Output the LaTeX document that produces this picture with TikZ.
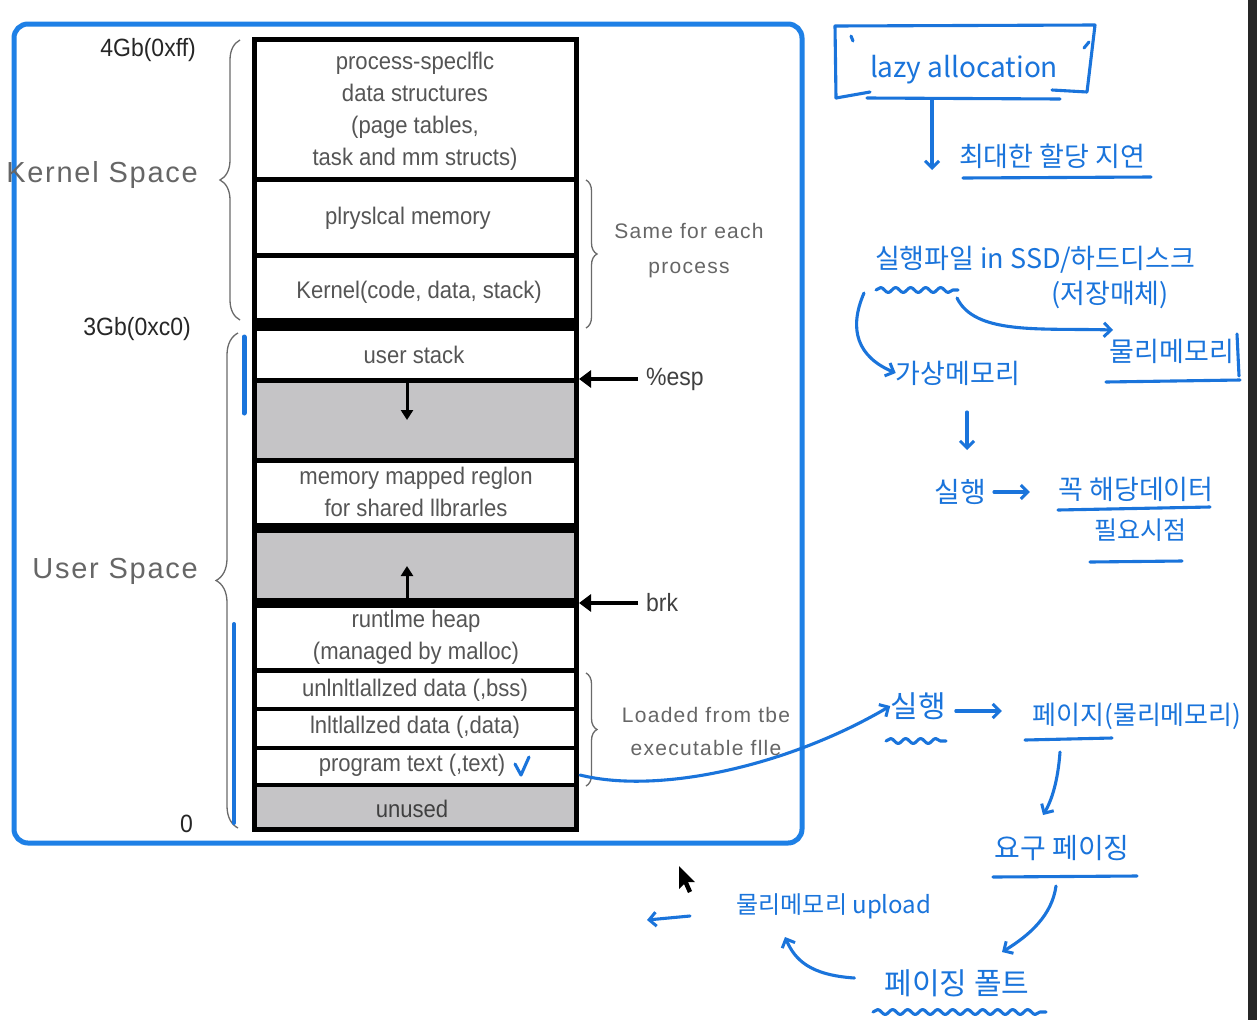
\documentclass[tikz,border=0pt]{standalone}
\usepackage{fontspec}
\setmainfont{Liberation Sans}
\newfontfamily\narrowfont[FakeStretch=0.92]{Liberation Sans}
\newfontfamily\widefont[LetterSpace=6]{Liberation Sans}
\newfontfamily\kr{Noto Sans CJK KR}
\usetikzlibrary{arrows.meta,decorations.pathreplacing,decorations.pathmorphing}
\definecolor{frameblue}{HTML}{1E80E6}
\definecolor{pen}{HTML}{1A74DB}
\definecolor{segtext}{HTML}{555555}
\definecolor{seggrey}{HTML}{C5C4C6}
\definecolor{bracegrey}{HTML}{6A6A6A}
\tikzset{
  segtxt/.style={font=\narrowfont\fontsize{24}{32}\selectfont, text=segtext, align=center, inner sep=0},
  addr/.style={font=\narrowfont\fontsize{25}{28}\selectfont, text=black!85, inner sep=0},
  spacelbl/.style={font=\widefont\fontsize{29}{32}\selectfont, text=black!60, inner sep=0},
  penline/.style={draw=pen, line width=3.1, line cap=round, line join=round},
  barb/.style={-{Straight Barb[length=7,width=14,line width=3]}},
  hand/.style={text=pen, font=\kr\fontsize{#1}{#1}\selectfont, inner sep=0},
  hand/.default=27,
  wavy/.style={penline, decorate, decoration={snake, segment length=15, amplitude=2.5}},
  bracestyle/.style={draw=bracegrey, line width=1.3, decorate, decoration={brace, amplitude=#1}},
  ptr/.style={line width=3.5, -{Triangle[length=12,width=17]}},
}
\begin{document}
\begin{tikzpicture}[x=1pt,y=-1pt]
\useasboundingbox (0,0) rectangle (1257,1020);
\fill[white] (0,0) rectangle (1257,1020);
\fill[black!85] (1248,0) rectangle (1257,1020);

% ---- address space layout ----
\draw[frameblue, line width=5, rounded corners=14] (14,24) rectangle (802,843);

\fill[seggrey] (254,381) rectangle (576,460);
\fill[seggrey] (254,530) rectangle (576,600);
\fill[seggrey] (254,786) rectangle (576,828);
\foreach \y/\w in {179/5, 255/5, 380/5, 460/5, 670/5, 709/4.5, 748/4.5, 785/4.5}
  \draw[line width=\w] (254,\y) -- (576,\y);
\fill (254,318) rectangle (576,331);
\fill (254,523) rectangle (576,533);
\fill (254,598) rectangle (576,608);
\draw[line width=5] (254,39) rectangle (576,829);

\node[segtxt] (pss) at (415,111) {process-speclflc\\data structures\\(page tables,\\task and mm structs)};
\node[segtxt] (phys) at (408,218) {plryslcal memory};
\node[segtxt] (kern) at (419,292) {Kernel(code, data, stack)};
\node[segtxt] (ustack) at (414,355) {user stack};
\node[segtxt] (mmap) at (416,492) {memory mapped reglon\\for shared llbrarles};
\node[segtxt] (heap) at (416,637) {runtlme heap\\(managed by malloc)};
\node[segtxt] (bss) at (415,690) {unlnltlallzed data (,bss)};
\node[segtxt] (data) at (415,727) {lnltlallzed data (,data)};
\node[segtxt] (text) at (412,765) {program text (,text)};
\node[segtxt, text=black!75] (unused) at (412,809) {unused};

% growth directions of stack and heap
\coordinate (sTop) at (407,382);
\coordinate (sEnd) at (407,420);
\draw[line width=3, -{Triangle[length=10,width=12]}] (sTop) -- (sEnd);
\coordinate (hBot) at (407,601);
\coordinate (hEnd) at (407,566);
\draw[line width=3, -{Triangle[length=10,width=12]}] (hBot) -- (hEnd);

% pointers
\node[addr, anchor=west, text=black!75] (esp) at (646,379) {\%esp};
\coordinate (espT) at (579,379);
\draw[ptr] (esp.west) ++(-8,0) -- (espT);
\node[addr, anchor=west, text=black!75] (brk) at (646,603) {brk};
\coordinate (brkT) at (579,603);
\draw[ptr] (brk.west) ++(-8,0) -- (brkT);

% addresses and regions
\node[addr, anchor=east] (a4) at (196,50) {4Gb(0xff)};
\node[addr, anchor=east] (a3) at (191,329) {3Gb(0xc0)};
\node[addr, anchor=east] (a0) at (193,824) {0};
\node[spacelbl, anchor=east] (ks) at (198,175) {Kernel Space};
\node[spacelbl, anchor=east] (us) at (198,571) {User Space};

\draw[bracestyle=20] (240,320) -- (240,40);
\draw[bracestyle=22] (238,828) -- (238,333);
\draw[bracestyle=11] (586,180) -- (586,328);
\draw[bracestyle=11] (586,673) -- (586,786);

\node[segtxt, text=black!60, font=\widefont\fontsize{21}{35}\selectfont] (same) at (689,251) {Same for each\\process};
\node[segtxt, text=black!60, font=\widefont\fontsize{21}{33}\selectfont] (loaded) at (706,731) {Loaded from tbe\\executable flle};

% ---- handwritten notes ----
\draw[penline, line width=5] (244,337) -- (244,413);
\draw[penline, line width=4] (234,624) -- (234,823);
\draw[penline] (515,764) -- (521,775) -- (529,757);

% lazy allocation box
\node[hand=28] (lazy) at (964,70) {lazy allocation};
\draw[penline] (836,98) -- (835,26) -- (1095,25) -- (1087,92) -- (1052,90);
\draw[penline] (836,98) -- (870,92);
\draw[penline] (1089,42) -- (1084,48);
\draw[penline] (851,36) -- (853,41);
\draw[penline] (867,98) -- (1060,99);
\node[hand] (delay) at (1052,156) {최대한 할당 지연};
\draw[penline] (963,178) -- (1151,177);
\coordinate (lz) at (932,99);
\coordinate (lzEnd) at (932,170);
\draw[penline, barb] (lz) -- (lzEnd);

% executable file
\node[hand] (exe) at (1035,260) {실행파일 in SSD/하드디스크};
\node[hand] (medium) at (1110,295) {(저장매체)};
\node[hand] (vmem) at (958,373) {가상메모리};
\node[hand] (pmem) at (1172,351) {물리메모리};
\draw[wavy] (876,290) -- (958,290);
\draw[penline] (1237,334) -- (1239,376);
\draw[penline] (1106,382) -- (1240,380);
\coordinate (c1) at (864,293);
\coordinate (c2) at (957,298);
\draw[penline, barb] (c1) .. controls (848,330) and (858,357) .. (vmem.west);
\draw[penline, barb] (c2) .. controls (975,335) and (1040,328) .. (1113,330);

\coordinate (d1a) at (967,412);
\coordinate (d1b) at (967,450);
\draw[penline, barb] (d1a) -- (d1b);

\node[hand=28] (run1) at (960,492) {실행};
\node[hand] (need) at (1136,489) {꼭 해당데이터};
\node[hand=25] (when) at (1140,530) {필요시점};
\draw[penline, barb] (run1.east) ++(8,0) -- ++(36,0);
\draw[penline] (1058,510) -- (1210,507);
\draw[penline] (1090,562) -- (1182,561);

% execution -> page
\node[hand=30] (run2) at (918,706) {실행};
\draw[wavy] (886,741) -- (946,741);
\coordinate (ptxt) at (580,775);
\draw[penline, barb] (ptxt) .. controls (660,795) and (790,765) .. (run2.west);
\node[hand=26] (page) at (1137,716) {페이지(물리메모리)};
\draw[penline, barb] (run2.east) ++(10,5) -- ++(46,0);
\draw[penline] (1025,740) -- (1112,738);

\node[hand=28] (demand) at (1062,848) {요구 페이징};
\coordinate (pg) at (1060,752);
\draw[penline, barb] (pg) .. controls (1058,780) and (1052,800) .. (1043,815);
\draw[penline] (993,877) -- (1137,876);

\node[hand=30] (fault) at (957,983) {페이징 폴트};
\draw[wavy] (873,1012) -- (1046,1012);
\coordinate (dm) at (1056,886);
\draw[penline, barb] (dm) .. controls (1052,915) and (1030,935) .. (1002,952);

\node[hand=24] (upload) at (834,906) {물리메모리 upload};
\draw[penline, barb] (fault.west) ++(-30,-5) .. controls (810,975) and (795,960) .. (785,937);
\coordinate (l1) at (690,916);
\coordinate (l2) at (647,920);
\draw[penline, barb] (l1) -- (l2);

% pointer cursor
\fill[black] (679,866) -- (679,889) -- (684,884) -- (688,893) -- (692,891) -- (688,882) -- (695,882) -- cycle;
\end{tikzpicture}
\end{document}
